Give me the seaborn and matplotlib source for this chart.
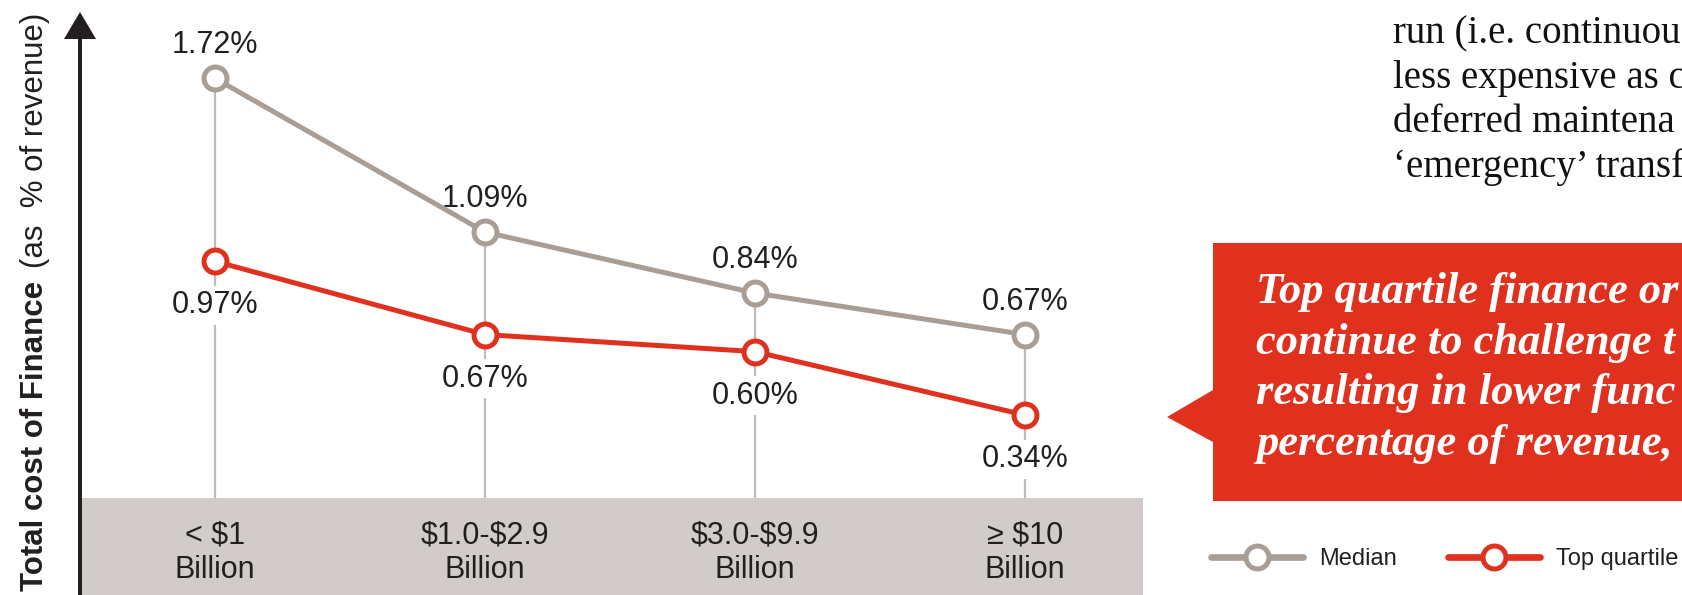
import matplotlib.pyplot as plt
from matplotlib.lines import Line2D
from matplotlib.patches import Polygon
import seaborn as sns
import pandas as pd
import numpy as np

# Chart data
categories = ['< $1\nBillion', '$1.0-$2.9\nBillion', '$3.0-$9.9\nBillion', '\u2265 $10\nBillion']
median = [1.72, 1.09, 0.84, 0.67]
top_quartile = [0.97, 0.67, 0.60, 0.34]
median_labels = ['1.72%', '1.09%', '0.84%', '0.67%']
tq_labels = ['0.97%', '0.67%', '0.60%', '0.34%']
series_names = ['Median', 'Top quartile']

# Surrounding page text (cut off by the crop)
callout_lines = ['Top quartile finance or', 'continue to challenge t',
                 'resulting in lower func', 'percentage of revenue,']
body_lines = ['run (i.e. continuou', 'less expensive as c',
              'deferred maintena', '\u2018emergency\u2019 transf']

# Colours
gray = '#a89e96'
red = '#e0301e'
band = '#d1ccc9'
drop = '#c2bab4'
ink = '#231f20'

sns.set_style('white')
plt.rcParams['font.family'] = ['Liberation Sans', 'DejaVu Sans']
plt.rcParams['text.parse_math'] = False

W, H = 1682, 595
fig = plt.figure(figsize=(W / 100, H / 100), dpi=100)


def fx(x):
    return x / W


def fy(y):
    return 1 - y / H


# Main plotting area
ax = fig.add_axes([fx(82), 0, fx(1143) - fx(82), fy(12)])
ax.set_facecolor('none')
pos = np.arange(len(categories))

df = pd.DataFrame({'pos': pos, 'Median': median, 'Top quartile': top_quartile})

ax.axhspan(-1, 0, color=band, lw=0, zorder=0)
ax.vlines(pos, 0, df['Median'], color=drop, lw=1.6, zorder=1)

for name, col in zip(series_names, [gray, red]):
    sns.lineplot(data=df, x='pos', y=name, color=col, lw=3.6, sort=False,
                 marker='o', markersize=16.5, markerfacecolor='white',
                 markeredgecolor=col, markeredgewidth=3.6, zorder=4,
                 legend=False, ax=ax)

# Value labels
box = dict(boxstyle='square,pad=0.15', fc='white', ec='none')
for i in range(len(pos)):
    ax.annotate(median_labels[i], (pos[i], median[i]), xytext=(0, 18),
                textcoords='offset points', ha='center', va='baseline',
                fontsize=22, color=ink, bbox=box, zorder=3)
    ax.annotate(tq_labels[i], (pos[i], top_quartile[i]), xytext=(0, -37.5),
                textcoords='offset points', ha='center', va='baseline',
                fontsize=22, color=ink, bbox=box, zorder=3)

ax.set_xlim(-0.4926, 3.437)
ax.set_ylim(-0.3975, 1.992)
ax.set_xticks(pos, categories)
ax.set_yticks([])
ax.tick_params(axis='x', length=0, pad=-54, labelsize=22, labelcolor=ink)
ax.set_xlabel('')
ax.set_ylabel('')
for s in ax.spines.values():
    s.set_visible(False)

# Y axis arrow
fig.add_artist(Line2D([fx(80), fx(80)], [fy(600), fy(36)], lw=2.9, color=ink,
                      transform=fig.transFigure))
fig.add_artist(Polygon([(fx(80), fy(12)), (fx(64), fy(39)), (fx(96), fy(39))],
                       closed=True, fc=ink, ec='none', transform=fig.transFigure))

# Y axis title (bold part + regular part)
fig.text(fx(35), fy(13), '(as  % of revenue)', rotation=90, ha='center', va='top',
         fontsize=22.5, color=ink)
fig.text(fx(35), fy(281), 'Total cost of Finance', rotation=90, ha='center', va='top',
         fontsize=22.5, weight='bold', color=ink)

# Red callout box with pointer
fig.add_artist(Polygon([(fx(1213), fy(243)), (fx(1700), fy(243)), (fx(1700), fy(501)),
                        (fx(1213), fy(501)), (fx(1213), fy(442)), (fx(1167), fy(417)),
                        (fx(1213), fy(390))],
                       closed=True, fc=red, ec='none', transform=fig.transFigure))
for k, line in enumerate(callout_lines):
    fig.text(fx(1256), fy(303 + 50.7 * k), line, color='white', fontsize=32,
             family=['Liberation Serif', 'DejaVu Serif'], style='italic',
             weight='bold', va='baseline', ha='left')

# Body text at the top right
for k, line in enumerate(body_lines):
    fig.text(fx(1393), fy(43 + 44.7 * k), line, color='#111111', fontsize=28,
             family=['Liberation Serif', 'DejaVu Serif'], va='baseline', ha='left')

# Legend
handles = [Line2D([], [], color=c, lw=4.8, marker='o', markersize=16.5,
                  markerfacecolor='white', markeredgecolor=c, markeredgewidth=3.6,
                  solid_capstyle='round')
           for c in [gray, red]]
fig.legend(handles, series_names, loc='center left',
           bbox_to_anchor=(fx(1211), fy(559)), ncol=2, frameon=False,
           fontsize=17, labelcolor=ink, handlelength=3.9, handletextpad=0.68,
           columnspacing=2.16, borderpad=0, borderaxespad=0)

fig.savefig('out.png', dpi=100)
